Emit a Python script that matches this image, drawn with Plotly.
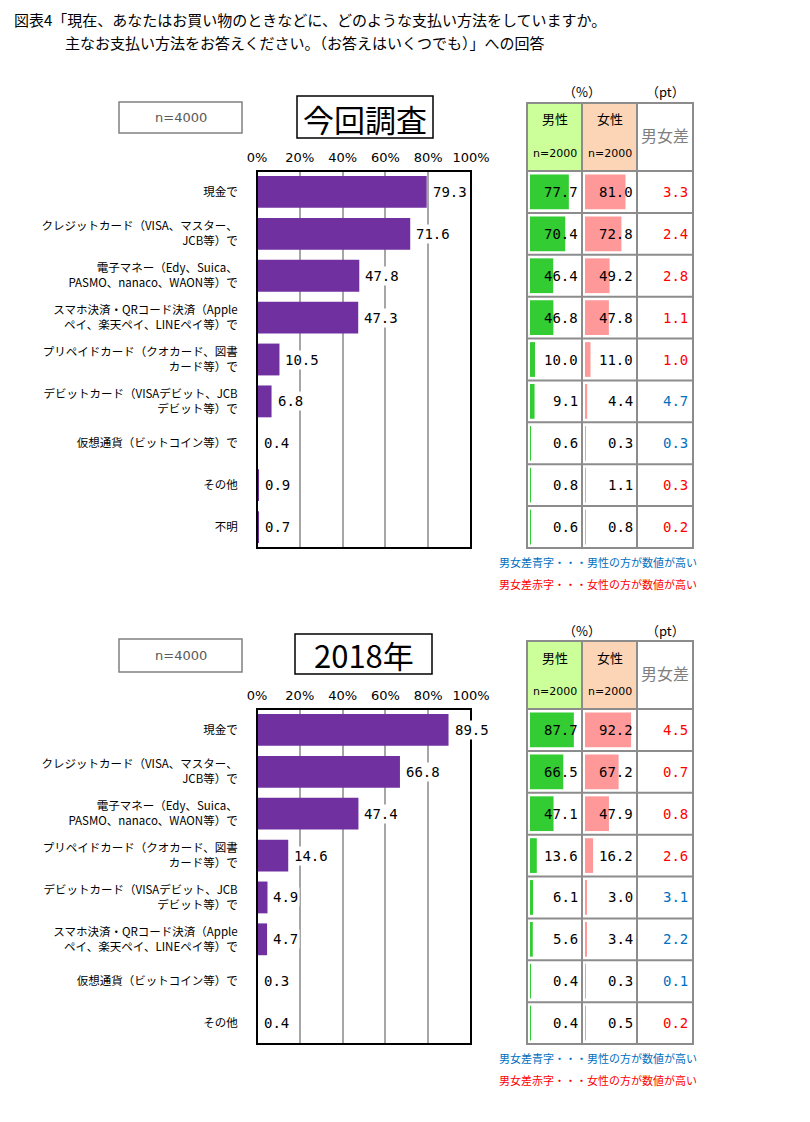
import plotly.graph_objects as go

# page body has an 8px default margin; the figure fills the rest of the 810x1122 window
OFF = 8
W, H = 810 - 2 * OFF, 1122 - 2 * OFF

# ---------------- data ----------------
cats_now = [
    "現金で",
    "クレジットカード（VISA、マスター、<br>JCB等）で",
    "電子マネー（Edy、Suica、<br>PASMO、nanaco、WAON等）で",
    "スマホ決済・QRコード決済（Apple<br>ペイ、楽天ペイ、LINEペイ等）で",
    "プリペイドカード（クオカード、図書<br>カード等）で",
    "デビットカード（VISAデビット、JCB<br>デビット等）で",
    "仮想通貨（ビットコイン等）で",
    "その他",
    "不明",
]
total_now = [79.3, 71.6, 47.8, 47.3, 10.5, 6.8, 0.4, 0.9, 0.7]
male_now = [77.7, 70.4, 46.4, 46.8, 10.0, 9.1, 0.6, 0.8, 0.6]
female_now = [81.0, 72.8, 49.2, 47.8, 11.0, 4.4, 0.3, 1.1, 0.8]
diff_now = [3.3, 2.4, 2.8, 1.1, 1.0, 4.7, 0.3, 0.3, 0.2]

cats_2018 = [
    "現金で",
    "クレジットカード（VISA、マスター、<br>JCB等）で",
    "電子マネー（Edy、Suica、<br>PASMO、nanaco、WAON等）で",
    "プリペイドカード（クオカード、図書<br>カード等）で",
    "デビットカード（VISAデビット、JCB<br>デビット等）で",
    "スマホ決済・QRコード決済（Apple<br>ペイ、楽天ペイ、LINEペイ等）で",
    "仮想通貨（ビットコイン等）で",
    "その他",
]
total_2018 = [89.5, 66.8, 47.4, 14.6, 4.9, 4.7, 0.3, 0.4]
male_2018 = [87.7, 66.5, 47.1, 13.6, 6.1, 5.6, 0.4, 0.4]
female_2018 = [92.2, 67.2, 47.9, 16.2, 3.0, 3.4, 0.3, 0.5]
diff_2018 = [4.5, 0.7, 0.8, 2.6, 3.1, 2.2, 0.1, 0.2]

x_ticks = [0, 20, 40, 60, 80, 100]
tick_labels = ["0%", "20%", "40%", "60%", "80%", "100%"]

title_line1 = "図表4「現在、あなたはお買い物のときなどに、どのような支払い方法をしていますか。"
title_line2 = "主なお支払い方法をお答えください。（お答えはいくつでも）」への回答"

# ---------------- styles ----------------
JP = "Noto Sans CJK JP"
NUM = "DejaVu Sans Mono"
PURPLE = "#7030A0"
GREEN = "#33CC33"
PINK = "#FF9999"
RED = "#FF0000"
BLUE = "#0070C0"
TGRID = "#8C8C8C"


def px(x):
    return (x - OFF) / W


def py(y):
    return 1 - (y - OFF) / H


def text(t, x, y, size, color="#000", family=JP, xanchor="center"):
    return dict(text=t, x=px(x), y=py(y), xref="paper", yref="paper", xanchor=xanchor,
                yanchor="middle", showarrow=False, font=dict(family=family, size=size, color=color))


fig = go.Figure()
shapes = []
annotations = []
layout_axes = {}

annotations.append(text(title_line1, 12, 19, 15, xanchor="left"))
annotations.append(text(title_line2, 63, 43, 15, xanchor="left"))


def panel(idx, cats, total, male, female, diff, title, top, bottom, head_top, title_box, n_box):
    k = idx * 3 + 1
    xa, ya = f"x{'' if k == 1 else k}", f"y{'' if k == 1 else k}"
    xm, ym = f"x{k+1}", f"y{k+1}"
    xf, yf = f"x{k+2}", f"y{k+2}"
    ydom = [py(bottom), py(top)]
    n = len(cats)

    fig.add_trace(go.Bar(x=total, y=cats, orientation="h", xaxis=xa, yaxis=ya,
                         marker=dict(color=PURPLE, line=dict(width=0)), width=0.76,
                         hoverinfo="skip", showlegend=False))
    fig.add_trace(go.Bar(x=male, y=cats, orientation="h", xaxis=xm, yaxis=ym,
                         marker=dict(color=GREEN, line=dict(width=0)), width=0.83,
                         hoverinfo="skip", showlegend=False))
    fig.add_trace(go.Bar(x=female, y=cats, orientation="h", xaxis=xf, yaxis=yf,
                         marker=dict(color=PINK, line=dict(width=0)), width=0.83,
                         hoverinfo="skip", showlegend=False))

    def key(a):
        return a.replace("x", "xaxis").replace("y", "yaxis")

    layout_axes[key(xa)] = dict(domain=[px(257), px(471)], range=[0, 100], side="top",
                                anchor=ya, tickvals=x_ticks, ticktext=tick_labels,
                                tickfont=dict(family="DejaVu Sans", size=13, color="#000"),
                                ticks="outside", ticklen=3, tickcolor="rgba(0,0,0,0)",
                                showgrid=True, gridcolor="#A6A6A6", gridwidth=1.5,
                                zeroline=False, showline=False, fixedrange=True)
    layout_axes[key(ya)] = dict(domain=ydom, anchor=xa, autorange="reversed", type="category",
                                tickfont=dict(family=JP, size=11.5, color="#000"),
                                ticks="outside", ticklen=16, tickcolor="rgba(0,0,0,0)",
                                showgrid=False, zeroline=False, showline=False, fixedrange=True)
    for xx, yy, d in ((xm, ym, [px(530), px(580)]), (xf, yf, [px(585), px(635)])):
        layout_axes[key(xx)] = dict(domain=d, range=[0, 100], anchor=yy, visible=False,
                                    fixedrange=True)
        layout_axes[key(yy)] = dict(domain=ydom, anchor=xx, autorange="reversed",
                                    type="category", visible=False, fixedrange=True)

    shapes.append(dict(type="rect", xref=f"{xa} domain", yref=f"{ya} domain", x0=0, x1=1,
                       y0=0, y1=1, line=dict(color="#000", width=2), layer="above"))

    for c, v in zip(cats, total):
        annotations.append(dict(text=f"{v:.1f}", x=v, y=c, xref=xa, yref=ya, xanchor="left",
                                yanchor="middle", xshift=4, showarrow=False, bgcolor="white",
                                borderpad=1, font=dict(family=NUM, size=14, color="#000")))

    # table
    L, C1, C2, R = 527, 582, 637, 693
    shapes.append(dict(type="rect", xref="paper", yref="paper", x0=px(L), x1=px(C1),
                       y0=py(top), y1=py(head_top), fillcolor="#CCFF99", line=dict(width=0),
                       layer="below"))
    shapes.append(dict(type="rect", xref="paper", yref="paper", x0=px(C1), x1=px(C2),
                       y0=py(top), y1=py(head_top), fillcolor="#FBD5B5", line=dict(width=0),
                       layer="below"))
    shapes.append(dict(type="rect", xref="paper", yref="paper", x0=px(L), x1=px(R),
                       y0=py(bottom), y1=py(head_top), line=dict(color=TGRID, width=2),
                       layer="above"))
    for xv in (C1, C2):
        shapes.append(dict(type="line", xref="paper", yref="paper", x0=px(xv), x1=px(xv),
                           y0=py(bottom), y1=py(head_top), line=dict(color=TGRID, width=2),
                           layer="above"))
    for i in range(n):
        shapes.append(dict(type="line", xref="paper", yref=f"{ym} domain", x0=px(L), x1=px(R),
                           y0=1 - i / n, y1=1 - i / n, line=dict(color=TGRID, width=2),
                           layer="above"))

    for cx, lab in ((554.5, "男性"), (609.5, "女性")):
        annotations.append(text(lab, cx, head_top + 16, 13))
        annotations.append(text("n=2000", cx, head_top + 50, 11, family="DejaVu Sans"))
    annotations.append(text("男女差", 665, head_top + 32, 16, color="#7F7F7F"))
    annotations.append(text("（%）", 582, head_top - 11, 13))
    annotations.append(text("（pt）", 665, head_top - 11, 13))

    for c, m, f, d in zip(cats, male, female, diff):
        annotations.append(dict(text=f"{m:.1f}", x=1, y=c, xref=f"{xm} domain", yref=ym,
                                xanchor="right", yanchor="middle", showarrow=False,
                                font=dict(family=NUM, size=14, color="#000")))
        annotations.append(dict(text=f"{f:.1f}", x=1, y=c, xref=f"{xf} domain", yref=yf,
                                xanchor="right", yanchor="middle", showarrow=False,
                                font=dict(family=NUM, size=14, color="#000")))
        annotations.append(dict(text=f"{d:.1f}", x=px(690), y=c, xref="paper", yref=ym,
                                xanchor="right", yanchor="middle", showarrow=False,
                                font=dict(family=NUM, size=14, color=BLUE if m > f else RED)))

    annotations.append(text("男女差青字・・・男性の方が数値が高い", 497, bottom + 14, 11,
                            color=BLUE, xanchor="left"))
    annotations.append(text("男女差赤字・・・女性の方が数値が高い", 497, bottom + 36, 11,
                            color=RED, xanchor="left"))

    tx0, ty0, tx1, ty1 = title_box
    shapes.append(dict(type="rect", xref="paper", yref="paper", x0=px(tx0), x1=px(tx1),
                       y0=py(ty1), y1=py(ty0), line=dict(color="#000", width=1.5)))
    annotations.append(text(title, (tx0 + tx1) / 2, (ty0 + ty1) / 2 + 1, 31))
    nx0, ny0, nx1, ny1 = n_box
    shapes.append(dict(type="rect", xref="paper", yref="paper", x0=px(nx0), x1=px(nx1),
                       y0=py(ny1), y1=py(ny0), line=dict(color="#808080", width=1.5)))
    annotations.append(text("n=4000", (nx0 + nx1) / 2, (ny0 + ny1) / 2, 13,
                            color="#595959", family="DejaVu Sans"))


panel(0, cats_now, total_now, male_now, female_now, diff_now, "今回調査",
      top=171, bottom=548, head_top=103, title_box=(297, 96, 433, 138), n_box=(119, 102, 242, 133))
panel(1, cats_2018, total_2018, male_2018, female_2018, diff_2018, "2018年",
      top=709, bottom=1044, head_top=641, title_box=(295, 634, 432, 674), n_box=(119, 639, 242, 672))

fig.update_layout(
    width=W, height=H, autosize=False,
    margin=dict(l=0, r=0, t=0, b=0, autoexpand=False),
    paper_bgcolor="white", plot_bgcolor="white",
    showlegend=False, barmode="overlay",
    shapes=shapes, annotations=annotations,
    **layout_axes,
)

fig.write_html("out.html", config={"displayModeBar": False, "responsive": False})
